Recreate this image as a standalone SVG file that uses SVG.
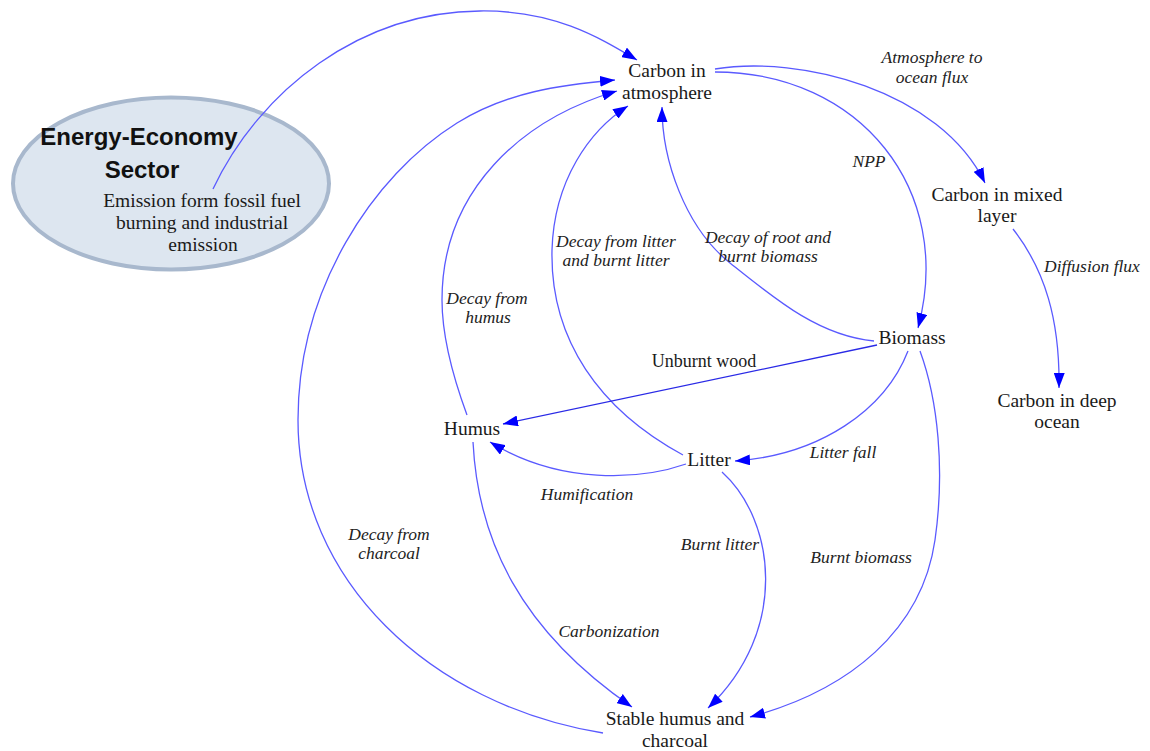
<svg xmlns="http://www.w3.org/2000/svg" width="1150" height="751" viewBox="0 0 1150 751">
  <style>
    .node { font-family: "Liberation Serif", "Times New Roman", serif; font-size: 19.5px; fill: #1a1a1a; text-anchor: middle; }
    .lbl { font-family: "Liberation Serif", "Times New Roman", serif; font-size: 17.5px; font-style: italic; fill: #222; text-anchor: middle; }
    .plain { font-family: "Liberation Serif", "Times New Roman", serif; font-size: 18px; fill: #1a1a1a; text-anchor: middle; }
    .sector { font-family: "Liberation Sans", Arial, sans-serif; font-size: 24px; font-weight: bold; fill: #111; text-anchor: middle; }
    .flow { fill: none; stroke: #5a5aff; stroke-width: 1.3; marker-end: url(#arrow); }
    .flow.dark { stroke: #2a2ae6; }
  </style>
  <defs>
    <marker id="arrow" markerUnits="userSpaceOnUse" markerWidth="15" markerHeight="11" refX="15" refY="5.5" orient="auto">
      <path d="M0,0 L15,5.5 L0,11 z" fill="#0000ff"/>
    </marker>
  </defs>

  <rect width="1150" height="751" fill="#ffffff"/>

  <!-- Energy-Economy sector bubble -->
  <g id="energy-economy">
    <ellipse cx="171" cy="183.5" rx="158" ry="86" fill="#dde6f0" stroke="#a8b8cd" stroke-width="4"/>
    <text class="sector" x="139" y="145">Energy-Economy</text>
    <text class="sector" x="142" y="178">Sector</text>
    <text class="node" x="202" y="207">Emission form fossil fuel</text>
    <text class="node" x="202" y="229">burning and industrial</text>
    <text class="node" x="203" y="251">emission</text>
  </g>

  <!-- carbon flows -->
  <g id="connectors">
    <!-- fossil emission -->
    <path class="flow" d="M213,189 C260,90 360,12 480,11 C555,10 600,38 637,60"/>
    <!-- atmosphere to ocean -->
    <path class="flow" d="M715,69 C800,55 940,90 985,183"/>
    <!-- NPP -->
    <path class="flow" d="M715,72 C860,72 955,190 918,328"/>
    <!-- diffusion -->
    <path class="flow" d="M1013,229 C1045,270 1060,320 1059,388"/>
    <!-- decay of root and burnt biomass -->
    <path class="flow" d="M874,341 C819,336 775,299 730,263 C685,227 662,160 662,107"/>
    <!-- decay from litter -->
    <path class="flow" d="M683,455 C600,410 550,340 552,250 C554,180 590,130 628,106"/>
    <!-- decay from humus -->
    <path class="flow" d="M467,415 C453,377 442,338 442,300 C442,190 522,119 617,91"/>
    <!-- decay from charcoal -->
    <path class="flow" d="M603,733 C430,705 298,580 298,420 C298,290 372,176 457,123 C507,92 560,85 615,80"/>
    <!-- unburnt wood -->
    <path class="flow dark" d="M877,345 L503,424"/>
    <!-- litter fall -->
    <path class="flow" d="M908,351 C885,410 820,455 735,461"/>
    <!-- burnt biomass -->
    <path class="flow" d="M920,351 C938,400 945,470 935,540 C922,630 850,690 750,717"/>
    <!-- humification -->
    <path class="flow" d="M686,464 C640,480 560,485 490,442"/>
    <!-- burnt litter -->
    <path class="flow" d="M722,472 C775,520 790,630 708,708"/>
    <!-- carbonization -->
    <path class="flow" d="M473,442 C478,540 520,630 632,707"/>
  </g>

  <!-- flow labels -->
  <g id="flow-labels">
    <text class="lbl" x="932" y="63">Atmosphere to</text>
    <text class="lbl" x="932" y="83">ocean flux</text>
    <text class="lbl" x="869" y="167">NPP</text>
    <text class="lbl" x="1092" y="272">Diffusion flux</text>
    <text class="lbl" x="768" y="243">Decay of root and</text>
    <text class="lbl" x="768" y="262">burnt biomass</text>
    <text class="lbl" x="616" y="247">Decay from litter</text>
    <text class="lbl" x="616" y="266">and burnt litter</text>
    <text class="lbl" x="487" y="304">Decay from</text>
    <text class="lbl" x="488" y="323">humus</text>
    <text class="plain" x="704" y="367">Unburnt wood</text>
    <text class="lbl" x="843" y="458">Litter fall</text>
    <text class="lbl" x="587" y="500">Humification</text>
    <text class="lbl" x="389" y="540">Decay from</text>
    <text class="lbl" x="389" y="559">charcoal</text>
    <text class="lbl" x="720" y="550">Burnt litter</text>
    <text class="lbl" x="861" y="563">Burnt biomass</text>
    <text class="lbl" x="609" y="637">Carbonization</text>
  </g>

  <!-- carbon pools -->
  <g id="carbon-atmosphere">
    <text class="node" x="667" y="77">Carbon in</text>
    <text class="node" x="667" y="99">atmosphere</text>
  </g>
  <g id="carbon-mixed-layer">
    <text class="node" x="997" y="201">Carbon in mixed</text>
    <text class="node" x="997" y="222">layer</text>
  </g>
  <g id="carbon-deep-ocean">
    <text class="node" x="1057" y="407">Carbon in deep</text>
    <text class="node" x="1057" y="428">ocean</text>
  </g>
  <g id="biomass">
    <text class="node" x="912" y="344">Biomass</text>
  </g>
  <g id="humus">
    <text class="node" x="472" y="435">Humus</text>
  </g>
  <g id="litter">
    <text class="node" x="709" y="466">Litter</text>
  </g>
  <g id="stable-humus-charcoal">
    <text class="node" x="675" y="725">Stable humus and</text>
    <text class="node" x="675" y="747">charcoal</text>
  </g>
</svg>
